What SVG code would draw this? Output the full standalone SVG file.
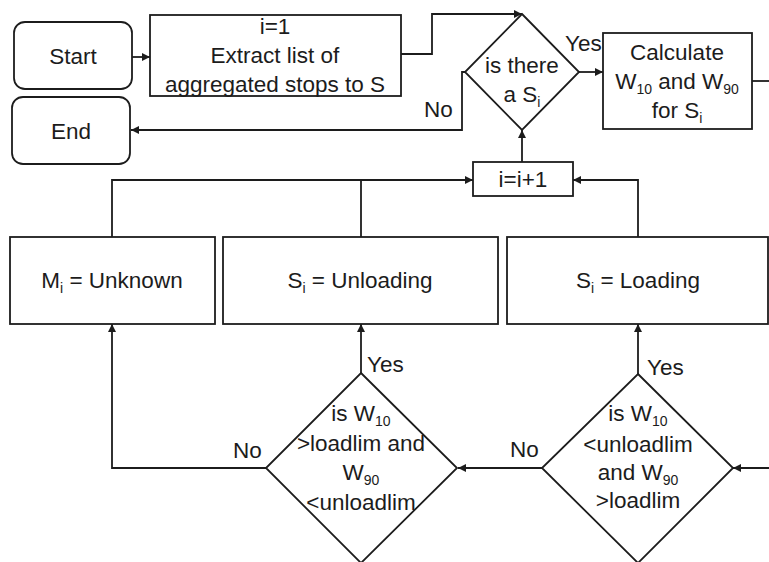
<svg xmlns="http://www.w3.org/2000/svg" width="769" height="562" viewBox="0 0 769 562">
  <style>
    .shape { fill: #ffffff; stroke: #1c1c1c; stroke-width: 1.8; }
    .line { fill: none; stroke: #1c1c1c; stroke-width: 1.8; }
    .arrow { marker-end: url(#head); }
    text { font-family: "Liberation Sans", Arial, sans-serif; font-size: 22.5px; fill: #1c1c1c; }
    .c { text-anchor: middle; }
    .sub { font-size: 14px; }
  </style>
  <defs>
    <marker id="head" viewBox="0 0 10 10" refX="10" refY="5" markerWidth="8" markerHeight="8" markerUnits="userSpaceOnUse" orient="auto">
      <path d="M0,0 L10,5 L0,10 z" fill="#1c1c1c"/>
    </marker>
  </defs>

  <rect width="769" height="562" fill="#ffffff"/>

  <!-- connectors -->
  <g id="connectors">
    <path class="line arrow" d="M132,57 H150"/>
    <path class="line arrow" d="M401,54 H432 V14 H522"/>
    <path class="line arrow" d="M465,72 H462 V130 H131"/>
    <path class="line arrow" d="M579,72 H603"/>
    <path class="line" d="M752,81 H769"/>
    <path class="line arrow" d="M522,162 V130"/>
    <path class="line arrow" d="M112,237 V180 H473"/>
    <path class="line" d="M361,237 V180"/>
    <path class="line arrow" d="M638,237 V180 H573"/>
    <path class="line arrow" d="M266,468 H112 V324"/>
    <path class="line arrow" d="M361,373 V324"/>
    <path class="line arrow" d="M638,374 V324"/>
    <path class="line arrow" d="M542,468 H458"/>
    <path class="line arrow" d="M769,468 H733"/>
    <text x="424" y="117">No</text>
    <text x="565" y="51">Yes</text>
    <text x="367" y="372">Yes</text>
    <text x="233" y="458">No</text>
    <text x="510" y="457">No</text>
    <text x="647" y="375">Yes</text>
  </g>

  <g id="start">
    <rect class="shape" x="14" y="22" width="118" height="67" rx="11"/>
    <text class="c" x="73" y="64">Start</text>
  </g>

  <g id="end">
    <rect class="shape" x="12" y="97" width="118" height="67" rx="11"/>
    <text class="c" x="71" y="139">End</text>
  </g>

  <g id="extract">
    <rect class="shape" x="150" y="15" width="251" height="81"/>
    <text class="c" x="275" y="34">i=1</text>
    <text class="c" x="275" y="63">Extract list of</text>
    <text class="c" x="275" y="92">aggregated stops to S</text>
  </g>

  <g id="is-there">
    <path class="shape" d="M522,14 L579,72 L522,130 L465,72 z"/>
    <text class="c" x="522" y="73">is there</text>
    <text class="c" x="522" y="102">a S<tspan class="sub" dy="5">i</tspan></text>
  </g>

  <g id="calculate">
    <rect class="shape" x="603" y="33" width="149" height="96"/>
    <text class="c" x="677" y="60">Calculate</text>
    <text class="c" x="677" y="89">W<tspan class="sub" dy="5">10</tspan><tspan dy="-5"> and W</tspan><tspan class="sub" dy="5">90</tspan></text>
    <text class="c" x="677" y="118">for S<tspan class="sub" dy="5">i</tspan></text>
  </g>

  <g id="increment">
    <rect class="shape" x="473" y="162" width="100" height="34"/>
    <text class="c" x="523" y="187">i=i+1</text>
  </g>

  <g id="unknown">
    <rect class="shape" x="10" y="237" width="205" height="87"/>
    <text class="c" x="112" y="288">M<tspan class="sub" dy="5">i</tspan><tspan dy="-5"> = Unknown</tspan></text>
  </g>

  <g id="unloading">
    <rect class="shape" x="223" y="237" width="275" height="87"/>
    <text class="c" x="360" y="288">S<tspan class="sub" dy="5">i</tspan><tspan dy="-5"> = Unloading</tspan></text>
  </g>

  <g id="loading">
    <rect class="shape" x="507" y="237" width="261" height="87"/>
    <text class="c" x="638" y="288">S<tspan class="sub" dy="5">i</tspan><tspan dy="-5"> = Loading</tspan></text>
  </g>

  <g id="check-unloading">
    <path class="shape" d="M361,373 L457,468 L361,563 L266,468 z"/>
    <text class="c" x="361" y="421">is W<tspan class="sub" dy="5">10</tspan></text>
    <text class="c" x="361" y="451">&gt;loadlim and</text>
    <text class="c" x="361" y="480">W<tspan class="sub" dy="5">90</tspan></text>
    <text class="c" x="361" y="510">&lt;unloadlim</text>
  </g>

  <g id="check-loading">
    <path class="shape" d="M638,374 L733,468 L638,563 L542,468 z"/>
    <text class="c" x="638" y="421">is W<tspan class="sub" dy="5">10</tspan></text>
    <text class="c" x="638" y="452">&lt;unloadlim</text>
    <text class="c" x="638" y="480">and W<tspan class="sub" dy="5">90</tspan></text>
    <text class="c" x="638" y="508">&gt;loadlim</text>
  </g>
</svg>
